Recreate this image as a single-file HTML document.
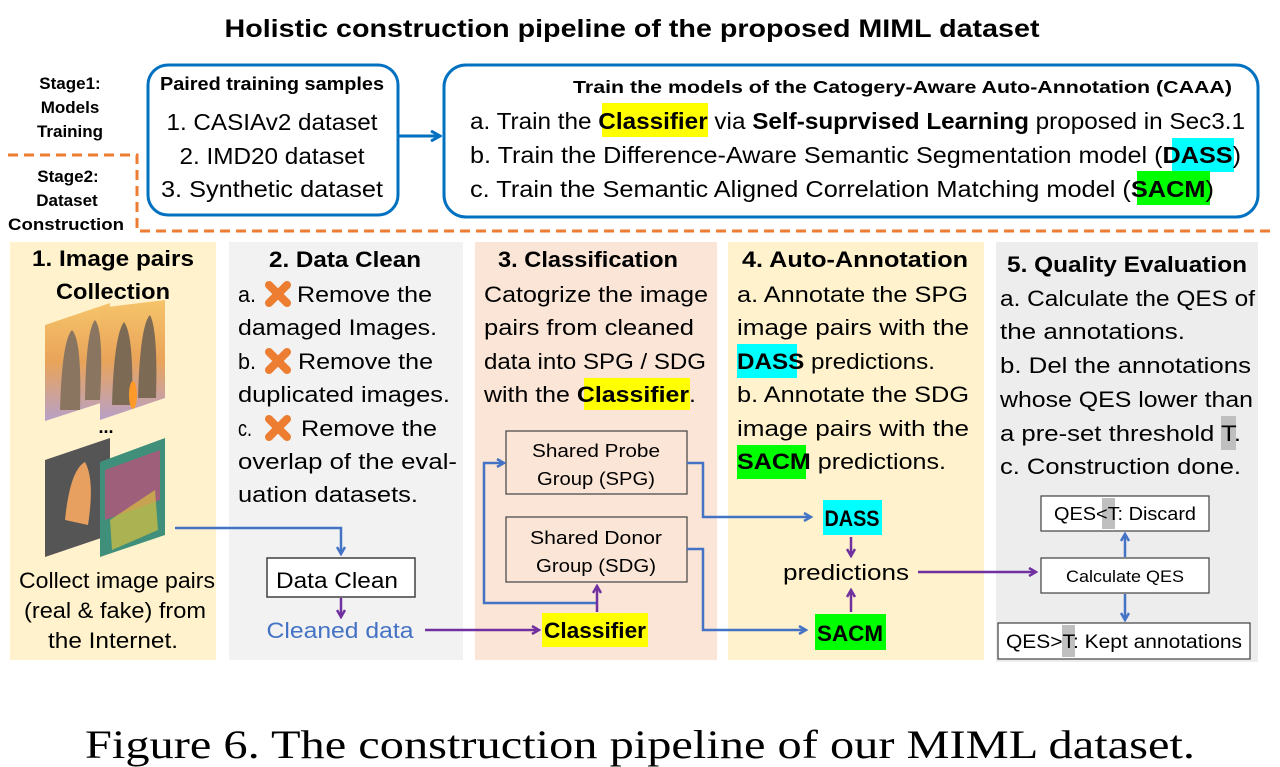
<!DOCTYPE html>
<html><head><meta charset="utf-8"><style>
html,body{margin:0;padding:0;background:#fff;}
svg{display:block}
text{font-family:"Liberation Sans",sans-serif;fill:#000}
.b{font-weight:bold}
</style></head><body>
<svg width="1280" height="767" viewBox="0 0 1280 767" xmlns="http://www.w3.org/2000/svg">
<defs>
<marker id="ab" markerWidth="10" markerHeight="10" refX="8" refY="5" orient="auto" markerUnits="userSpaceOnUse"><path d="M1,1 L8,5 L1,9" fill="none" stroke="#4472c4" stroke-width="2.5"/></marker>
<marker id="ab2" markerWidth="12" markerHeight="12" refX="10" refY="6" orient="auto" markerUnits="userSpaceOnUse"><path d="M1,1 L10,6 L1,11" fill="none" stroke="#0070c0" stroke-width="3"/></marker>
<marker id="ap" markerWidth="10" markerHeight="10" refX="8" refY="5" orient="auto" markerUnits="userSpaceOnUse"><path d="M1,1 L8,5 L1,9" fill="none" stroke="#7030a0" stroke-width="2.5"/></marker>
<linearGradient id="sun" x1="0" y1="0" x2="0" y2="1"><stop offset="0" stop-color="#f6c46a"/><stop offset="0.5" stop-color="#e9a45a"/><stop offset="1" stop-color="#b7a0c8"/></linearGradient>
</defs>

<!-- Title -->
<text x="632" y="37" text-anchor="middle" class="b" font-size="25" textLength="815" lengthAdjust="spacingAndGlyphs">Holistic construction pipeline of the proposed MIML dataset</text>

<!-- Stage labels -->
<g class="b" font-size="17" text-anchor="middle">
<text x="70" y="89" class="b">Stage1:</text>
<text x="70" y="113" class="b">Models</text>
<text x="70" y="137" class="b">Training</text>
<text x="68" y="182" class="b">Stage2:</text>
<text x="67" y="206" class="b">Dataset</text>
<text x="66" y="230" class="b" textLength="116" lengthAdjust="spacingAndGlyphs">Construction</text>
</g>
<path d="M8,155 H137 V231 H1270" fill="none" stroke="#ed7d31" stroke-width="3" stroke-dasharray="10,6"/>

<!-- Box1 -->
<rect x="148" y="65" width="250" height="150" rx="20" fill="#fff" stroke="#0070c0" stroke-width="3"/>
<text x="272" y="90" text-anchor="middle" class="b" font-size="18" textLength="224" lengthAdjust="spacingAndGlyphs">Paired training samples</text>
<text x="272" y="130" text-anchor="middle" font-size="23" textLength="211" lengthAdjust="spacingAndGlyphs">1. CASIAv2 dataset</text>
<text x="272" y="164" text-anchor="middle" font-size="23" textLength="185" lengthAdjust="spacingAndGlyphs">2. IMD20 dataset</text>
<text x="272" y="197" text-anchor="middle" font-size="23" textLength="222" lengthAdjust="spacingAndGlyphs">3. Synthetic dataset</text>
<line x1="399" y1="136" x2="440" y2="136" stroke="#0070c0" stroke-width="3" marker-end="url(#ab2)"/>

<!-- Box2 -->
<rect x="444" y="65" width="814" height="152" rx="22" fill="#fff" stroke="#0070c0" stroke-width="3"/>
<text x="573" y="93" class="b" font-size="17.5" textLength="659" lengthAdjust="spacingAndGlyphs">Train the models of the Catogery-Aware Auto-Annotation  (CAAA)</text>
<rect x="602" y="103" width="106" height="34" fill="#ffff00"/>
<rect x="1172" y="138" width="62" height="34" fill="#00ffff"/>
<rect x="1137" y="171" width="73" height="34" fill="#00ff00"/>
<text x="470" y="129" font-size="23" textLength="775" lengthAdjust="spacingAndGlyphs">a. Train the <tspan class="b">Classifier</tspan> via <tspan class="b">Self-suprvised Learning</tspan> proposed in Sec3.1</text>
<text x="470" y="163" font-size="23" textLength="771" lengthAdjust="spacingAndGlyphs">b. Train the Difference-Aware Semantic Segmentation model (<tspan class="b">DASS</tspan>)</text>
<text x="470" y="197" font-size="23" textLength="744" lengthAdjust="spacingAndGlyphs">c. Train the Semantic Aligned Correlation Matching model (<tspan class="b">SACM</tspan>)</text>

<!-- Panels -->
<rect x="10" y="242" width="206" height="418" fill="#fff2cc"/>
<rect x="229" y="242" width="234" height="418" fill="#f2f2f2"/>
<rect x="475" y="242" width="242" height="418" fill="#fbe5d6"/>
<rect x="728" y="242" width="256" height="418" fill="#fff2cc"/>
<rect x="996" y="242" width="262" height="420" fill="#ededed"/>

<!-- P1 -->
<text x="113" y="266" text-anchor="middle" class="b" font-size="22" textLength="162" lengthAdjust="spacingAndGlyphs">1. Image pairs</text>
<text x="113" y="299" text-anchor="middle" class="b" font-size="22" textLength="114" lengthAdjust="spacingAndGlyphs">Collection</text>
<polygon points="45,325 110,303 110,400 45,421" fill="url(#sun)"/>
<polygon points="100,308 165,300 165,398 100,420" fill="url(#sun)"/>
<path d="M60,410 Q62,340 72,330 Q82,340 80,410Z M85,400 Q86,330 95,320 Q104,330 100,400Z" fill="#8a7660"/>
<path d="M112,405 Q114,335 124,322 Q134,335 132,405Z M138,398 Q140,325 150,315 Q158,330 156,398Z" fill="#7c6a55"/>
<ellipse cx="133" cy="395" rx="4" ry="14" fill="#ff9a2a"/>
<text x="106" y="433" text-anchor="middle" class="b" font-size="18">...</text>
<polygon points="45,460 110,438 110,535 45,557" fill="#555"/>
<path d="M65,520 Q70,470 85,462 Q95,480 88,525Z" fill="#e8a060"/>
<polygon points="100,462 165,438 165,535 100,557" fill="#3f8f7a"/>
<path d="M105,470 L160,450 L160,500 L105,520Z" fill="#c84a7a" opacity="0.7"/>
<path d="M110,520 L155,490 L158,530 L112,550Z" fill="#d8c040" opacity="0.7"/>
<text x="117" y="588" text-anchor="middle" font-size="22" textLength="196" lengthAdjust="spacingAndGlyphs">Collect image pairs</text>
<text x="115" y="618" text-anchor="middle" font-size="22" textLength="182" lengthAdjust="spacingAndGlyphs">(real &amp; fake) from</text>
<text x="113" y="648" text-anchor="middle" font-size="22" textLength="130" lengthAdjust="spacingAndGlyphs">the Internet.</text>

<!-- P2 -->
<text x="345" y="267" text-anchor="middle" class="b" font-size="22" textLength="152" lengthAdjust="spacingAndGlyphs">2. Data Clean</text>
<g font-size="22">
<text x="238" y="302" textLength="18" lengthAdjust="spacingAndGlyphs">a.</text>
<text x="297" y="302" textLength="135" lengthAdjust="spacingAndGlyphs">Remove the</text>
<text x="238" y="335" textLength="199" lengthAdjust="spacingAndGlyphs">damaged Images.</text>
<text x="238" y="369" textLength="18" lengthAdjust="spacingAndGlyphs">b.</text>
<text x="298" y="369" textLength="135" lengthAdjust="spacingAndGlyphs">Remove the</text>
<text x="238" y="402" textLength="212" lengthAdjust="spacingAndGlyphs">duplicated images.</text>
<text x="238" y="436" textLength="14" lengthAdjust="spacingAndGlyphs">c.</text>
<text x="301" y="436" textLength="136" lengthAdjust="spacingAndGlyphs">Remove the</text>
<text x="238" y="469" textLength="219" lengthAdjust="spacingAndGlyphs">overlap of the eval-</text>
<text x="238" y="502" textLength="180" lengthAdjust="spacingAndGlyphs">uation datasets.</text>
</g>
<g stroke="#ed7d31" stroke-width="8" stroke-linecap="round">
<path d="M269,285 L287,303 M287,285 L269,303"/>
<path d="M269,352 L287,370 M287,352 L269,370"/>
<path d="M269,419 L287,437 M287,419 L269,437"/>
</g>
<rect x="267" y="558" width="148" height="39" fill="#fff" stroke="#404040" stroke-width="1.5"/>
<text x="337" y="588" text-anchor="middle" font-size="22" textLength="122" lengthAdjust="spacingAndGlyphs">Data Clean</text>
<text x="340" y="638" text-anchor="middle" font-size="22" fill="#4472c4" style="fill:#4472c4" textLength="147" lengthAdjust="spacingAndGlyphs">Cleaned data</text>
<path d="M175,528 H341 V554" fill="none" stroke="#4472c4" stroke-width="2.5" marker-end="url(#ab)"/>
<line x1="341" y1="598" x2="341" y2="617" stroke="#7030a0" stroke-width="2.5" marker-end="url(#ap)"/>
<line x1="425" y1="630" x2="539" y2="630" stroke="#7030a0" stroke-width="2.5" marker-end="url(#ap)"/>

<!-- P3 -->
<text x="588" y="267" text-anchor="middle" class="b" font-size="22" textLength="180" lengthAdjust="spacingAndGlyphs">3. Classification</text>
<rect x="584" y="378" width="106" height="32" fill="#ffff00"/>
<g font-size="22">
<text x="484" y="302" textLength="224" lengthAdjust="spacingAndGlyphs">Catogrize the image</text>
<text x="484" y="335" textLength="210" lengthAdjust="spacingAndGlyphs">pairs from cleaned</text>
<text x="484" y="369" textLength="222" lengthAdjust="spacingAndGlyphs">data into SPG / SDG</text>
<text x="484" y="402" textLength="212" lengthAdjust="spacingAndGlyphs">with the <tspan class="b">Classifier</tspan>.</text>
</g>
<rect x="506" y="431" width="181" height="63" fill="#fbe5d6" stroke="#404040" stroke-width="1.2"/>
<text x="596" y="457" text-anchor="middle" font-size="18" textLength="128" lengthAdjust="spacingAndGlyphs">Shared Probe</text>
<text x="596" y="485" text-anchor="middle" font-size="18" textLength="118" lengthAdjust="spacingAndGlyphs">Group (SPG)</text>
<rect x="506" y="517" width="181" height="65" fill="#fbe5d6" stroke="#404040" stroke-width="1.2"/>
<text x="596" y="544" text-anchor="middle" font-size="18" textLength="132" lengthAdjust="spacingAndGlyphs">Shared Donor</text>
<text x="596" y="572" text-anchor="middle" font-size="18" textLength="120" lengthAdjust="spacingAndGlyphs">Group (SDG)</text>
<rect x="542" y="613" width="106" height="34" fill="#ffff00"/>
<text x="595" y="638" text-anchor="middle" class="b" font-size="22" textLength="102" lengthAdjust="spacingAndGlyphs">Classifier</text>
<path d="M597,603 H484 V463 H504" fill="none" stroke="#4472c4" stroke-width="2.5" marker-end="url(#ab)"/>
<line x1="597" y1="612" x2="597" y2="586" stroke="#7030a0" stroke-width="2.5" marker-end="url(#ap)"/>
<path d="M687,463 H703 V517 H811" fill="none" stroke="#4472c4" stroke-width="2.5" marker-end="url(#ab)"/>
<path d="M687,549 H703 V630 H806" fill="none" stroke="#4472c4" stroke-width="2.5" marker-end="url(#ab)"/>

<!-- P4 -->
<text x="855" y="267" text-anchor="middle" class="b" font-size="22" textLength="226" lengthAdjust="spacingAndGlyphs">4. Auto-Annotation</text>
<rect x="737" y="344" width="60" height="34" fill="#00ffff"/>
<rect x="737" y="445" width="69" height="34" fill="#00ff00"/>
<g font-size="22">
<text x="737" y="302" textLength="231" lengthAdjust="spacingAndGlyphs">a. Annotate the SPG</text>
<text x="737" y="335" textLength="232" lengthAdjust="spacingAndGlyphs">image pairs with the</text>
<text x="737" y="369" textLength="198" lengthAdjust="spacingAndGlyphs"><tspan class="b">DASS</tspan> predictions.</text>
<text x="737" y="402" textLength="232" lengthAdjust="spacingAndGlyphs">b. Annotate the SDG</text>
<text x="737" y="436" textLength="232" lengthAdjust="spacingAndGlyphs">image pairs with the</text>
<text x="737" y="469" textLength="209" lengthAdjust="spacingAndGlyphs"><tspan class="b">SACM</tspan> predictions.</text>
</g>
<rect x="823" y="500" width="59" height="35" fill="#00ffff"/>
<text x="852" y="526" text-anchor="middle" class="b" font-size="22" textLength="55" lengthAdjust="spacingAndGlyphs">DASS</text>
<line x1="851" y1="537" x2="851" y2="556" stroke="#7030a0" stroke-width="2.5" marker-end="url(#ap)"/>
<text x="846" y="580" text-anchor="middle" font-size="22" textLength="126" lengthAdjust="spacingAndGlyphs">predictions</text>
<line x1="851" y1="612" x2="851" y2="590" stroke="#7030a0" stroke-width="2.5" marker-end="url(#ap)"/>
<rect x="815" y="614" width="71" height="36" fill="#00ff00"/>
<text x="850" y="641" text-anchor="middle" class="b" font-size="22" textLength="66" lengthAdjust="spacingAndGlyphs">SACM</text>
<line x1="918" y1="572" x2="1036" y2="572" stroke="#7030a0" stroke-width="2.5" marker-end="url(#ap)"/>

<!-- P5 -->
<text x="1127" y="272" text-anchor="middle" class="b" font-size="22" textLength="240" lengthAdjust="spacingAndGlyphs">5. Quality Evaluation</text>
<rect x="1221" y="416" width="15" height="34" fill="#bfbfbf"/>
<g font-size="22">
<text x="1000" y="306" textLength="255" lengthAdjust="spacingAndGlyphs">a. Calculate the QES of</text>
<text x="1000" y="339" textLength="185" lengthAdjust="spacingAndGlyphs">the annotations.</text>
<text x="1000" y="373" textLength="251" lengthAdjust="spacingAndGlyphs">b. Del the annotations</text>
<text x="1000" y="407" textLength="253" lengthAdjust="spacingAndGlyphs">whose QES lower than</text>
<text x="1000" y="441" textLength="241" lengthAdjust="spacingAndGlyphs">a pre-set threshold T.</text>
<text x="1000" y="474" textLength="241" lengthAdjust="spacingAndGlyphs">c. Construction done.</text>
</g>
<rect x="1041" y="496" width="168" height="35" fill="#fff" stroke="#404040" stroke-width="1.2"/>
<rect x="1102" y="498" width="13" height="31" fill="#bfbfbf"/>
<text x="1125" y="520" text-anchor="middle" font-size="18" textLength="142" lengthAdjust="spacingAndGlyphs">QES&lt;T: Discard</text>
<rect x="1041" y="558" width="168" height="35" fill="#fff" stroke="#404040" stroke-width="1.2"/>
<text x="1125" y="582" text-anchor="middle" font-size="17" textLength="118" lengthAdjust="spacingAndGlyphs">Calculate QES</text>
<rect x="998" y="623" width="252" height="36" fill="#fff" stroke="#404040" stroke-width="1.2"/>
<rect x="1062" y="625" width="13" height="32" fill="#bfbfbf"/>
<text x="1124" y="648" text-anchor="middle" font-size="19" textLength="236" lengthAdjust="spacingAndGlyphs">QES&gt;T: Kept annotations</text>
<line x1="1125" y1="557" x2="1125" y2="534" stroke="#4472c4" stroke-width="2.5" marker-end="url(#ab)"/>
<line x1="1125" y1="594" x2="1125" y2="620" stroke="#4472c4" stroke-width="2.5" marker-end="url(#ab)"/>

<!-- Caption -->
<text x="640" y="758" text-anchor="middle" font-size="40" style="font-family:'Liberation Serif',serif" textLength="1110" lengthAdjust="spacingAndGlyphs">Figure 6. The construction pipeline of our MIML dataset.</text>
</svg>
</body></html>
